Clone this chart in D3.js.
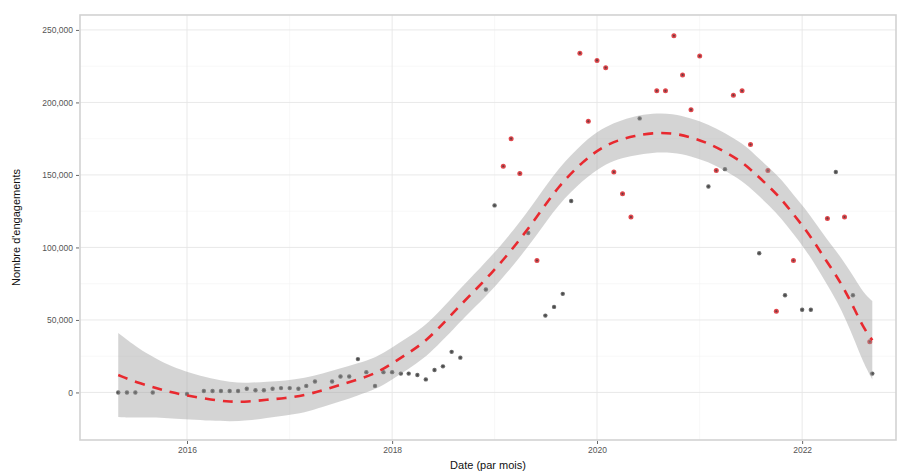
<!DOCTYPE html>
<html><head><meta charset="utf-8">
<script src="https://cdn.jsdelivr.net/npm/d3@7"></script>
<style>
body{margin:0;background:#fff}
svg{display:block;font-family:"Liberation Sans",Arial,sans-serif}
</style>
</head><body>
<svg id="chart" width="900" height="475"></svg>
<script>
// ---- monthly engagement points ----
const pointDates = [
 "2015-05-01","2015-06-01","2015-07-01","2015-09-01","2016-01-01","2016-03-01","2016-04-01","2016-05-01",
 "2016-06-01","2016-07-01","2016-08-01","2016-09-01","2016-10-01","2016-11-01","2016-12-01","2017-01-01",
 "2017-02-01","2017-03-01","2017-04-01","2017-06-01","2017-07-01","2017-08-01","2017-09-01","2017-10-01",
 "2017-11-01","2017-12-01","2018-01-01","2018-02-01","2018-03-01","2018-04-01","2018-05-01","2018-06-01",
 "2018-07-01","2018-08-01","2018-09-01","2018-12-01","2019-01-01","2019-02-01","2019-03-01","2019-04-01",
 "2019-05-01","2019-06-01","2019-07-01","2019-08-01","2019-09-01","2019-10-01","2019-11-01","2019-12-01",
 "2020-01-01","2020-02-01","2020-03-01","2020-04-01","2020-05-01","2020-06-01","2020-08-01","2020-09-01",
 "2020-10-01","2020-11-01","2020-12-01","2021-01-01","2021-02-01","2021-03-01","2021-04-01","2021-05-01",
 "2021-06-01","2021-07-01","2021-08-01","2021-09-01","2021-10-01","2021-11-01","2021-12-01","2022-01-01",
 "2022-02-01","2022-04-01","2022-05-01","2022-06-01","2022-07-01","2022-08-30","2022-09-08"
];
const pointValues = [
 0,0,0,0,-1000,1000,1000,1000,
 1000,1000,2500,1500,1500,2500,3000,3000,
 2500,4500,7500,7500,11000,11000,23000,14000,
 4500,14000,14000,13000,13000,12000,9000,15500,
 18000,28000,24000,71000,129000,156000,175000,151000,
 110000,91000,53000,59000,68000,132000,234000,187000,
 229000,224000,152000,137000,121000,189000,208000,208000,
 246000,219000,195000,232000,142000,153000,154000,205000,
 208000,171000,96000,153000,56000,67000,91000,57000,
 57000,120000,152000,121000,67000,35000,13000
];
const pointGroups = [
 "g","g","g","g","g","g","g","g",
 "g","g","g","g","g","g","g","g",
 "g","g","g","g","g","g","g","g",
 "g","g","g","g","g","g","g","g",
 "g","g","g","g","g","r","r","r",
 "g","r","g","g","g","g","r","r",
 "r","r","r","r","r","g","r","r",
 "r","r","r","r","g","r","g","r",
 "r","r","g","r","r","g","r","g",
 "g","r","g","r","g","r","g"
];

// ---- smoothed trend (fit and half-width of the confidence band) ----
const fitDates = [
 "2015-05-01","2015-07-10","2015-09-15","2015-11-07","2016-01-10","2016-03-28","2016-06-01","2016-08-05",
 "2016-10-12","2016-12-15","2017-02-24","2017-04-28","2017-06-28","2017-08-31","2017-11-04","2018-01-01",
 "2018-02-27","2018-04-21","2018-06-10","2018-08-07","2018-10-05","2018-12-16","2019-03-11","2019-06-01",
 "2019-08-15","2019-11-15","2020-01-18","2020-03-15","2020-05-15","2020-07-15","2020-09-27","2020-12-01",
 "2021-01-31","2021-04-01","2021-06-01","2021-07-17","2021-09-05","2021-10-21","2021-11-30","2022-01-11",
 "2022-02-19","2022-03-27","2022-05-05","2022-06-06","2022-07-08","2022-08-06","2022-09-08"
];
const fitValues = [
 12000,6500,3000,0,-2500,-5000,-6500,-6500,
 -5000,-4000,-2000,1500,5000,9000,13000,20000,
 27000,34000,43000,55000,67000,81000,100000,121000,
 142000,160000,169000,174000,177000,179000,179000,176000,
 172000,166000,159000,151000,142000,133000,123000,113000,
 102000,91000,80000,69000,57000,45000,36000
];
const fitHalfWidth = [
 29000,24000,20000,18000,16000,14500,13500,13000,
 12500,12000,12000,11500,11500,11000,11000,11000,
 11000,11000,11000,11500,11500,12000,12000,12500,
 12500,13000,13000,13000,13500,13500,13500,13000,
 13000,13000,13000,13000,13000,13500,13500,14000,
 14500,15500,17000,19000,21500,24000,27000
];

const yTicks = [0,50000,100000,150000,200000,250000];
const yMinor = [25000,75000,125000,175000,225000];
const xTickYears = [2016,2018,2020,2022];
const xMinorYears = [2017,2019,2021];

const parse = d3.timeParse("%Y-%m-%d");
const pts = pointDates.map((d,i)=>({date:parse(d), v:pointValues[i], g:pointGroups[i]}));
const fit = fitDates.map((d,i)=>({date:parse(d), v:fitValues[i], lo:fitValues[i]-fitHalfWidth[i], hi:fitValues[i]+fitHalfWidth[i]}));

const L=80, R=896, T=15, B=440;
const svg = d3.select("#chart");

const ref = new Date(2020,0,1).getTime(), yearMs = 365.25*864e5;
const x = d3.scaleTime()
  .domain([new Date(ref - (597-L)/102.5*yearMs), new Date(ref + (R-597)/102.5*yearMs)])
  .range([L,R]);
const y = d3.scaleLinear().domain([-32800,260300]).range([B,T]);

// panel background + grid
svg.append("rect").attr("x",L).attr("y",T).attr("width",R-L).attr("height",B-T).attr("fill","#fff");
const grid = svg.append("g");
grid.selectAll("line.ymin").data(yMinor).enter().append("line")
  .attr("x1",L).attr("x2",R).attr("y1",d=>y(d)).attr("y2",d=>y(d))
  .attr("stroke","#f3f3f3").attr("stroke-width",0.6);
grid.selectAll("line.xmin").data(xMinorYears).enter().append("line")
  .attr("y1",T).attr("y2",B).attr("x1",d=>x(new Date(d,0,1))).attr("x2",d=>x(new Date(d,0,1)))
  .attr("stroke","#f3f3f3").attr("stroke-width",0.6);
grid.selectAll("line.ymaj").data(yTicks).enter().append("line")
  .attr("x1",L).attr("x2",R).attr("y1",d=>y(d)).attr("y2",d=>y(d))
  .attr("stroke","#e6e6e6").attr("stroke-width",0.9);
grid.selectAll("line.xmaj").data(xTickYears).enter().append("line")
  .attr("y1",T).attr("y2",B).attr("x1",d=>x(new Date(d,0,1))).attr("x2",d=>x(new Date(d,0,1)))
  .attr("stroke","#e6e6e6").attr("stroke-width",0.9);

// points
const pg = svg.append("g");
pts.forEach(p=>{
  const cx=x(p.date), cy=y(p.v);
  if(p.g==="r"){
    pg.append("circle").attr("cx",cx).attr("cy",cy).attr("r",2.5).attr("fill","#e0474c");
    pg.append("circle").attr("cx",cx).attr("cy",cy).attr("r",1.1).attr("fill","#6a3a3e");
  } else {
    pg.append("circle").attr("cx",cx).attr("cy",cy).attr("r",2.2).attr("fill","#6b6b6b");
    pg.append("circle").attr("cx",cx).attr("cy",cy).attr("r",1.0).attr("fill","#444");
  }
});

// confidence ribbon
const area = d3.area().x(d=>x(d.date)).y0(d=>y(d.lo)).y1(d=>y(d.hi)).curve(d3.curveBasis);
svg.append("path").datum(fit).attr("d",area).attr("fill","#999").attr("fill-opacity",0.42);

// fitted line
const line = d3.line().x(d=>x(d.date)).y(d=>y(d.v)).curve(d3.curveBasis);
svg.append("path").datum(fit).attr("d",line).attr("fill","none")
  .attr("stroke","#e8292f").attr("stroke-width",2.6).attr("stroke-dasharray","10,8");

// panel border
svg.append("rect").attr("x",L).attr("y",T).attr("width",R-L).attr("height",B-T)
  .attr("fill","none").attr("stroke","#d2d2d2").attr("stroke-width",1.6);

// axes
const yAxis = d3.axisLeft(y).tickValues(yTicks).tickSize(3).tickPadding(3)
  .tickFormat(d=>d3.format(",")(d));
const gy = svg.append("g").attr("transform",`translate(${L-1},0)`).call(yAxis);
gy.select(".domain").remove();
gy.selectAll("line").attr("stroke","#666");
gy.selectAll("text").attr("fill","#555").attr("font-size",8.5);

const xAxis = d3.axisBottom(x).tickValues(xTickYears.map(v=>new Date(v,0,1))).tickSize(3).tickPadding(3)
  .tickFormat(d3.timeFormat("%Y"));
const gx = svg.append("g").attr("transform",`translate(0,${B+1})`).call(xAxis);
gx.select(".domain").remove();
gx.selectAll("line").attr("stroke","#666");
gx.selectAll("text").attr("fill","#555").attr("font-size",8.5);

// titles
svg.append("text").attr("x",(L+R)/2).attr("y",469).attr("text-anchor","middle")
  .attr("font-size",11).attr("fill","#111").text("Date (par mois)");
svg.append("text").attr("transform",`translate(20,${(T+B)/2}) rotate(-90)`).attr("text-anchor","middle")
  .attr("font-size",11).attr("fill","#111").text("Nombre d'engagements");
</script>
</body></html>
